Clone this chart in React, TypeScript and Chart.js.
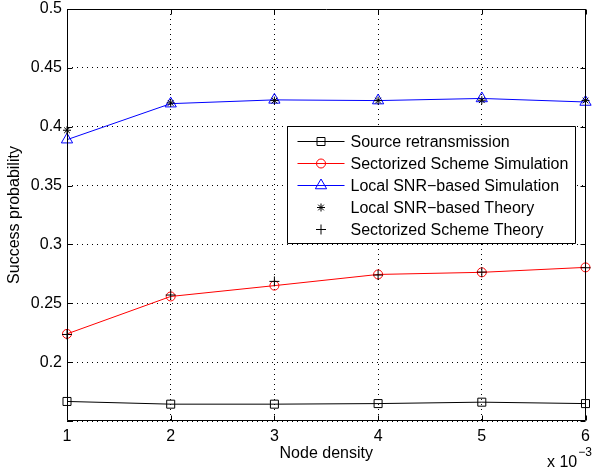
import React, { useEffect, useRef } from 'react';
import { Chart, registerables } from 'chart.js';
Chart.register(...registerables);

const nodeDensity = [1, 2, 3, 4, 5, 6];
const sourceRetransmission = [0.1666, 0.1643, 0.1643, 0.1648, 0.166, 0.1648];
const sectorizedSimulation = [0.224, 0.2558, 0.265, 0.2745, 0.2763, 0.2805];
const localSnrSimulation = [0.389, 0.4196, 0.4228, 0.4222, 0.424, 0.421];
const localSnrTheory = [0.397, 0.4202, 0.4222, 0.4222, 0.4225, 0.4222];
const sectorizedTheory = [0.2235, 0.257, 0.2686, 0.274, 0.2765, 0.2802];
const yTickValues = [0.15, 0.2, 0.25, 0.3, 0.35, 0.4, 0.45, 0.5];
const xTickValues = [1, 2, 3, 4, 5, 6];

const FONT = '"Liberation Sans", Arial, Helvetica, sans-serif';

type Marker = 'rect' | 'circle' | 'triangle' | 'star' | 'cross';

function drawMarker(ctx: CanvasRenderingContext2D, m: Marker, cx: number, cy: number, color: string) {
  ctx.save();
  ctx.strokeStyle = color;
  ctx.lineWidth = 1;
  ctx.beginPath();
  if (m === 'rect') {
    ctx.rect(cx - 4, cy - 4, 8, 8);
  } else if (m === 'circle') {
    ctx.arc(cx, cy, 4.5, 0, Math.PI * 2);
  } else if (m === 'triangle') {
    const r = 6.5;
    ctx.moveTo(cx, cy - r);
    ctx.lineTo(cx - r * Math.sin(Math.PI / 3), cy + r / 2);
    ctx.lineTo(cx + r * Math.sin(Math.PI / 3), cy + r / 2);
    ctx.closePath();
  } else if (m === 'star') {
    const r = 4;
    for (let i = 0; i < 4; i++) {
      const a = (i * Math.PI) / 4;
      ctx.moveTo(cx - r * Math.cos(a), cy - r * Math.sin(a));
      ctx.lineTo(cx + r * Math.cos(a), cy + r * Math.sin(a));
    }
  } else if (m === 'cross') {
    const r = 5;
    ctx.moveTo(cx - r, cy);
    ctx.lineTo(cx + r, cy);
    ctx.moveTo(cx, cy - r);
    ctx.lineTo(cx, cy + r);
  }
  ctx.stroke();
  ctx.restore();
}

const legendItems: { label: string; color: string; marker: Marker; line: boolean }[] = [
  { label: 'Source retransmission', color: '#000000', marker: 'rect', line: true },
  { label: 'Sectorized Scheme Simulation', color: '#ff0000', marker: 'circle', line: true },
  { label: 'Local SNR\u2212based Simulation', color: '#0000ff', marker: 'triangle', line: true },
  { label: 'Local SNR\u2212based Theory', color: '#000000', marker: 'star', line: false },
  { label: 'Sectorized Scheme Theory', color: '#000000', marker: 'cross', line: false },
];

const framePlugin = {
  id: 'frame',
  afterDraw(chart: any) {
    const ctx: CanvasRenderingContext2D = chart.ctx;
    const { left, right, top, bottom } = chart.chartArea;
    const xs = chart.scales.x;
    const ys = chart.scales.y;
    ctx.save();
    ctx.strokeStyle = '#000';
    ctx.lineWidth = 1;
    const L = Math.round(left) + 0.5, R = Math.round(right) - 0.5;
    const T = Math.round(top) + 0.5, B = Math.round(bottom) - 0.5;
    ctx.beginPath();
    ctx.rect(L, T, R - L, B - T);
    ctx.stroke();
    ctx.beginPath();
    for (const v of xTickValues) {
      const px = Math.round(xs.getPixelForValue(v)) + 0.5;
      ctx.moveTo(px, B); ctx.lineTo(px, B - 5);
      ctx.moveTo(px, T); ctx.lineTo(px, T + 5);
    }
    for (const v of yTickValues) {
      const py = Math.round(ys.getPixelForValue(v)) + 0.5;
      ctx.moveTo(L, py); ctx.lineTo(L + 5, py);
      ctx.moveTo(R, py); ctx.lineTo(R - 5, py);
    }
    ctx.stroke();

    // legend
    ctx.font = `16px ${FONT}`;
    let maxW = 0;
    for (const it of legendItems) maxW = Math.max(maxW, ctx.measureText(it.label).width);
    const boxW = Math.round(63 + maxW + 7);
    const rowH = 22;
    const boxH = 14.5 + rowH * (legendItems.length - 1) + 14.5;
    const bx = Math.round(right - 11 - boxW) + 0.5;
    const by = Math.round(top + 117) + 0.5;
    ctx.fillStyle = '#fff';
    ctx.fillRect(bx, by, boxW, boxH);
    ctx.beginPath();
    ctx.rect(bx, by, boxW, boxH);
    ctx.stroke();
    ctx.textBaseline = 'middle';
    ctx.textAlign = 'left';
    legendItems.forEach((it, i) => {
      const cy = Math.round(by + 14.5 + i * rowH) + 0.5;
      if (it.line) {
        ctx.beginPath();
        ctx.strokeStyle = it.color;
        ctx.moveTo(bx + 10, cy);
        ctx.lineTo(bx + 57, cy);
        ctx.stroke();
      }
      drawMarker(ctx, it.marker, bx + 33.5, cy, it.color);
      ctx.fillStyle = '#000';
      ctx.fillText(it.label, bx + 63, cy + 1);
    });

    // x 10^-3
    ctx.fillStyle = '#000';
    ctx.textBaseline = 'alphabetic';
    ctx.font = `16px ${FONT}`;
    ctx.fillText('x 10', 547, 467);
    const w = ctx.measureText('x 10').width;
    ctx.font = `12px ${FONT}`;
    ctx.fillText('\u22123', 547 + w + 1, 456);
    ctx.restore();
  },
};

export default function App() {
  const ref = useRef<HTMLCanvasElement | null>(null);
  useEffect(() => {
    document.body.style.margin = '0';
    const canvas = ref.current!;
    const mk = (label: string, data: number[], color: string, style: any, radius: number, showLine: boolean, order: number) => ({
      label,
      data: nodeDensity.map((x, i) => ({ x, y: data[i] })),
      borderColor: color,
      backgroundColor: 'transparent',
      pointBorderColor: color,
      pointBackgroundColor: 'transparent',
      pointStyle: style,
      pointRadius: radius,
      pointBorderWidth: 1,
      borderWidth: 1,
      showLine,
      clip: false as any,
      order,
    });
    const chart = new Chart(canvas, {
      type: 'line',
      data: {
        datasets: [
          mk('Source retransmission', sourceRetransmission, '#000000', 'rect', 5.66, true, 5),
          mk('Sectorized Scheme Simulation', sectorizedSimulation, '#ff0000', 'circle', 4.5, true, 4),
          mk('Local SNR\u2212based Simulation', localSnrSimulation, '#0000ff', 'triangle', 6.5, true, 3),
          mk('Local SNR\u2212based Theory', localSnrTheory, '#000000', 'star', 4, false, 2),
          mk('Sectorized Scheme Theory', sectorizedTheory, '#000000', 'cross', 5, false, 1),
        ],
      },
      options: {
        responsive: false,
        animation: false,
        events: [],
        layout: { padding: { top: 9, right: 5, left: 0, bottom: 0 } },
        plugins: { legend: { display: false }, tooltip: { enabled: false } },
        scales: {
          x: {
            type: 'linear',
            min: 1,
            max: 6,
            afterBuildTicks: (s: any) => { s.ticks = xTickValues.map((v) => ({ value: v })); },
            afterFit: (s: any) => { s.height = 49; s.paddingLeft = 0; s.paddingRight = 0; },
            ticks: {
              color: '#000',
              font: { family: FONT, size: 16 },
              padding: 6,
              callback: (v: any) => String(v),
            },
            grid: { color: '#000', drawTicks: false, lineWidth: 1 },
            border: { display: false, dash: [1, 4] },
            title: {
              display: true,
              text: 'Node density',
              color: '#000',
              font: { family: FONT, size: 16 },
              padding: { top: 0, bottom: 7 },
            },
          },
          y: {
            type: 'linear',
            min: 0.15,
            max: 0.5,
            afterBuildTicks: (s: any) => { s.ticks = yTickValues.map((v) => ({ value: v })); },
            afterFit: (s: any) => { s.width = 67; s.paddingTop = 0; s.paddingBottom = 0; },
            ticks: {
              color: '#000',
              font: { family: FONT, size: 16 },
              padding: 5,
              callback: (v: any) => (Math.abs(v - 0.15) < 1e-9 ? '' : String(parseFloat(Number(v).toFixed(2)))),
            },
            grid: { color: '#000', drawTicks: false, lineWidth: 1 },
            border: { display: false, dash: [1, 4] },
            title: {
              display: true,
              text: 'Success probability',
              color: '#000',
              font: { family: FONT, size: 16 },
              padding: { top: 5, bottom: 0 },
            },
          },
        },
      },
      plugins: [framePlugin],
    });
    return () => chart.destroy();
  }, []);
  return (
    <div style={{ width: 593, height: 470, background: '#fff' }}>
      <canvas ref={ref} width={593} height={470} style={{ display: 'block' }} />
    </div>
  );
}
